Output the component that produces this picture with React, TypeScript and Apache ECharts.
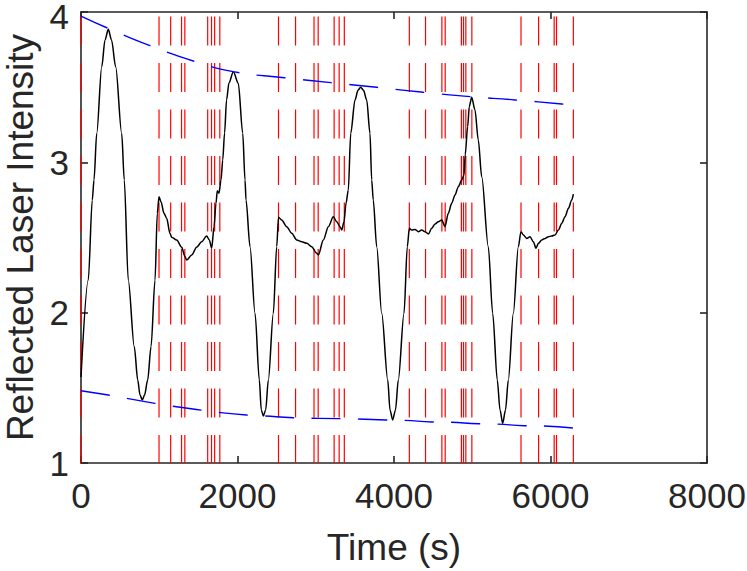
import React, { useEffect, useRef } from "react";
import * as echarts from "echarts";

// Time positions (s) of the red dashed vertical markers
const redLines: number[] = [
  0, 997, 1146, 1285, 1327, 1619, 1668, 1708, 1774,
  2524, 2742, 2978, 3031, 3235, 3299, 3365,
  4196, 4403, 4612, 4654, 4861, 4888, 4918, 4995,
  5623, 5848, 6047, 6077, 6292,
];

// Reflected laser intensity trace [time (s), intensity]
const cycle1: [number, number][] = [
  [0, 1.572], [93, 2.217], [144, 2.749], [166, 2.882], [201, 3.193], [265, 3.636],
  [307, 3.814], [349, 3.885], [390, 3.814], [443, 3.636], [520, 3.193], [553, 2.882],
  [604, 2.217], [681, 1.774], [725, 1.552], [754, 1.452], [783, 1.419], [812, 1.452],
  [852, 1.552], [895, 1.774], [946, 2.217], [975, 2.661], [997, 2.771],
];
const plateau1: [number, number][] = [
  [1022, 2.738], [1061, 2.661], [1095, 2.628], [1137, 2.528], [1159, 2.501], [1223, 2.483],
  [1287, 2.435], [1329, 2.372], [1351, 2.35], [1415, 2.384], [1478, 2.435], [1542, 2.472],
  [1606, 2.51], [1640, 2.483], [1670, 2.428], [1700, 2.572], [1725, 2.727], [1742, 2.811],
  [1763, 2.794], [1789, 2.882], [1811, 3.015],
];
const cycle2: [number, number][] = [
  [1835, 3.195], [1860, 3.415], [1891, 3.528], [1947, 3.603], [2010, 3.526], [2067, 3.193],
  [2096, 2.882], [2109, 2.749], [2160, 2.439], [2224, 1.996], [2279, 1.552], [2304, 1.353],
  [2330, 1.313], [2360, 1.353], [2394, 1.552], [2458, 1.996], [2501, 2.439], [2524, 2.635],
];
const plateau2: [number, number][] = [
  [2565, 2.616], [2629, 2.572], [2693, 2.528], [2757, 2.483], [2821, 2.472], [2885, 2.461],
  [2948, 2.439], [3012, 2.395], [3033, 2.384], [3097, 2.483], [3161, 2.572], [3225, 2.638],
  [3268, 2.605], [3310, 2.572], [3332, 2.55], [3361, 2.605], [3387, 2.727], [3416, 2.816],
];
const cycle3: [number, number][] = [
  [3447, 3.193], [3502, 3.415], [3540, 3.48], [3574, 3.499], [3610, 3.48], [3651, 3.415],
  [3693, 3.193], [3715, 2.882], [3735, 2.749], [3779, 2.439], [3843, 1.996], [3920, 1.552],
  [3949, 1.353], [3983, 1.286], [4019, 1.353], [4055, 1.552], [4128, 1.996], [4170, 2.439],
  [4196, 2.561],
];
const plateau3: [number, number][] = [
  [4226, 2.55], [4269, 2.554], [4311, 2.539], [4354, 2.55], [4396, 2.539], [4439, 2.523],
  [4482, 2.561], [4524, 2.59], [4567, 2.605], [4610, 2.616], [4652, 2.572], [4694, 2.661],
  [4737, 2.727], [4780, 2.783], [4822, 2.838], [4865, 2.882], [4895, 2.916],
];
const cycle4: [number, number][] = [
  [4910, 3.05], [4941, 3.237], [4962, 3.37], [4993, 3.433], [5035, 3.348], [5077, 3.149],
  [5121, 2.904], [5205, 2.439], [5261, 1.996], [5320, 1.552], [5355, 1.353], [5389, 1.264],
  [5425, 1.353], [5461, 1.552], [5525, 1.996], [5589, 2.439], [5623, 2.539],
];
const plateau4: [number, number][] = [
  [5653, 2.517], [5696, 2.494], [5738, 2.505], [5781, 2.472], [5815, 2.428], [5845, 2.461],
  [5888, 2.483], [5930, 2.494], [5973, 2.505], [6016, 2.51], [6058, 2.517], [6101, 2.55],
  [6144, 2.594], [6186, 2.638], [6229, 2.694], [6271, 2.749], [6292, 2.789],
];

// Envelopes [time (s), intensity]
const upperEnvelope: [number, number][] = [
  [0, 3.973], [349, 3.891], [882, 3.776], [1435, 3.674], [1947, 3.603], [2598, 3.563],
  [3195, 3.53], [3779, 3.499], [4375, 3.466], [4972, 3.437], [5547, 3.415], [6143, 3.388],
  [6292, 3.381],
];
const lowerEnvelope: [number, number][] = [
  [0, 1.481], [349, 1.452], [584, 1.43], [946, 1.397], [1159, 1.379], [1534, 1.352],
  [1755, 1.337], [2118, 1.319], [2330, 1.313], [2713, 1.301], [3054, 1.297], [3532, 1.293],
  [3890, 1.286], [4119, 1.284], [4486, 1.273], [4716, 1.271], [5078, 1.261], [5304, 1.259],
  [5662, 1.248], [5901, 1.246], [6292, 1.233],
];

const xTicks = { min: 0, max: 8000, interval: 2000 };
const yTicks = { min: 1, max: 4, interval: 1 };

const FONT = "Liberation Sans, Arial, Helvetica, sans-serif";
const DARK = "#262626";

export default function App() {
  const ref = useRef<HTMLDivElement>(null);
  useEffect(() => {
    if (!ref.current) return;
    const chart = echarts.init(ref.current, null, { renderer: "svg" });
    const trace = [
      ...cycle1, ...plateau1, ...cycle2, ...plateau2,
      ...cycle3, ...plateau3, ...cycle4, ...plateau4,
    ];
    const axisLine = { show: true, onZero: false, lineStyle: { color: DARK, width: 1.6 } };
    const axisTick = { show: true, inside: true, length: 7, lineStyle: { color: DARK, width: 1.6 } };
    const dash = [29, 17.5];
    const series: any[] = redLines.map((x) => ({
      type: "line",
      data: [[x, 1], [x, 4]],
      symbol: "none",
      silent: true,
      z: 2,
      lineStyle: { color: "#ff0000", width: 1.2, type: dash, dashOffset: 1 },
    }));
    series.push({
      type: "line",
      data: trace,
      symbol: "none",
      smooth: 0.3,
      smoothMonotone: "x",
      silent: true,
      z: 3,
      lineStyle: { color: "#000000", width: 1.5 },
    });
    [upperEnvelope, lowerEnvelope].forEach((env) =>
      series.push({
        type: "line",
        data: env,
        symbol: "none",
        smooth: true,
        silent: true,
        z: 4,
        lineStyle: { color: "#0000ff", width: 1.4, type: dash },
      })
    );
    const plain = (v: number) => String(v);
    const yLabel = (v: number) => (v === yTicks.max ? `{top|${v}}` : String(v));
    chart.setOption({
      animation: false,
      grid: {
        left: 81, top: 12, width: 626, height: 451,
        containLabel: false, outerBoundsMode: "none",
      },
      xAxis: [
        {
          type: "value", ...xTicks, position: "bottom",
          axisLine, axisTick,
          splitLine: { show: false },
          axisLabel: { fontSize: 35, color: DARK, margin: 15, fontFamily: FONT, formatter: plain },
          name: "Time (s)", nameLocation: "middle", nameGap: 66,
          nameTextStyle: { fontSize: 37, color: DARK, fontFamily: FONT },
        },
        {
          type: "value", ...xTicks, position: "top",
          axisLine, axisTick,
          splitLine: { show: false }, axisLabel: { show: false },
        },
      ],
      yAxis: [
        {
          type: "value", ...yTicks, position: "left",
          axisLine, axisTick,
          splitLine: { show: false },
          axisLabel: {
            fontSize: 35, color: DARK, margin: 12, fontFamily: FONT, formatter: yLabel,
            rich: {
              top: {
                fontSize: 35, color: DARK, fontFamily: FONT,
                lineHeight: 14, padding: [8, 0, 0, 0],
              },
            },
          },
          name: "Reflected Laser Intensity", nameLocation: "middle", nameGap: 42,
          nameTextStyle: { fontSize: 37, color: DARK, fontFamily: FONT },
        },
        {
          type: "value", ...yTicks, position: "right",
          axisLine, axisTick,
          splitLine: { show: false }, axisLabel: { show: false },
        },
      ],
      series,
    });
    return () => chart.dispose();
  }, []);
  return (
    <div
      ref={ref}
      style={{ position: "fixed", left: 0, top: 0, width: 747, height: 571, background: "#fff" }}
    />
  );
}
